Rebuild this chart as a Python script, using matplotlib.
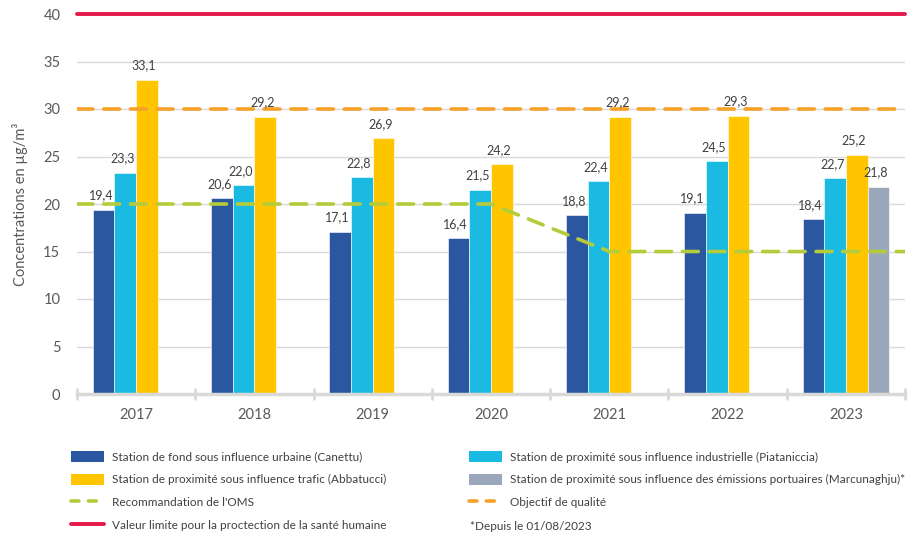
import numpy as np
import matplotlib
matplotlib.use('Agg')
from matplotlib import pyplot as plt
from matplotlib.patches import Patch
from matplotlib.lines import Line2D

plt.rcParams['font.family'] = ['Lato', 'DejaVu Sans']

years = ['2017', '2018', '2019', '2020', '2021', '2022', '2023']
canettu = [19.4, 20.6, 17.1, 16.4, 18.8, 19.1, 18.4]
piataniccia = [23.3, 22.0, 22.8, 21.5, 22.4, 24.5, 22.7]
abbatucci = [33.1, 29.2, 26.9, 24.2, 29.2, 29.3, 25.2]
marcunaghju = [np.nan, np.nan, np.nan, np.nan, np.nan, np.nan, 21.8]
oms = [20, 20, 20, 20, 15, 15, 15]
objectif = 30
valeur_limite = 40

series = [
    (canettu, '#2B57A0', 'Station de fond sous influence urbaine (Canettu)'),
    (piataniccia, '#1BBAE3', 'Station de proximité sous influence industrielle (Piataniccia)'),
    (abbatucci, '#FFC600', 'Station de proximité sous influence trafic (Abbatucci)'),
    (marcunaghju, '#9BA8BC', 'Station de proximité sous influence des émissions portuaires (Marcunaghju)*'),
]

txt = '#404040'
grid_c = '#D9D9D9'
green = '#B5CC3A'
orange = '#F7A128'
red = '#E5194B'

fig = plt.figure(figsize=(9.19, 5.35), dpi=100)
ax = fig.add_axes([77 / 919, 1 - 394 / 535, (905 - 77) / 919, (394 - 14) / 535])

x = np.arange(len(years))
w = 0.183
for i, (vals, col, lab) in enumerate(series):
    pos = x + (i - 1.5) * w
    ax.bar(pos, vals, w, color=col, edgecolor='white', linewidth=0.4, zorder=2)
    for px, v in zip(pos, vals):
        if np.isnan(v):
            continue
        ax.annotate('{:.1f}'.format(v).replace('.', ','), (px, v), xytext=(-2, 6),
                    textcoords='offset points', ha='center', va='bottom',
                    fontsize=9, color=txt, zorder=5)

# reference lines
xl = np.concatenate([[-0.5], x, [6.5]])
ax.plot(xl, [oms[0]] + oms + [oms[-1]], color=green, lw=2.6, dashes=(4.4, 3.0),
        dash_capstyle='round', zorder=3)
ax.plot([-0.5, 6.5], [objectif, objectif], color=orange, lw=2.6, dashes=(4.4, 3.0),
        dash_capstyle='round', zorder=3)
ax.plot([-0.5, 6.5], [valeur_limite, valeur_limite], color=red, lw=2.8,
        solid_capstyle='round', clip_on=False, zorder=3)

ax.set_xlim(-0.5, 6.5)
ax.set_ylim(0, 40)
ax.set_yticks(range(0, 41, 5))
ax.yaxis.grid(True, color=grid_c, lw=1, zorder=0)
ax.set_axisbelow(True)
ax.set_xticks(x)
ax.set_xticklabels(years)
ax.set_xticks(np.arange(-0.5, 7, 1), minor=True)
ax.tick_params(axis='x', which='major', length=0, pad=10, labelsize=10.5, labelcolor='#595959')
ax.tick_params(axis='x', which='minor', direction='inout', length=9, width=2, color=grid_c)
ax.tick_params(axis='y', length=0, pad=12, labelsize=10.5, labelcolor='#595959')
for s in ['top', 'right', 'left']:
    ax.spines[s].set_visible(False)
ax.spines['bottom'].set_color(grid_c)
ax.spines['bottom'].set_linewidth(2.5)
ax.set_ylabel('Concentrations en µg/m³', fontsize=10.5, color='#595959', labelpad=11)

# legend
def bar_h(c):
    return Patch(facecolor=c, edgecolor='none')

left_h = [bar_h(series[0][1]), bar_h(series[2][1]),
          Line2D([], [], color=green, lw=2.6, dashes=(2.2, 2.6), dash_capstyle='round'),
          Line2D([], [], color=red, lw=2.8, solid_capstyle='round')]
left_l = [series[0][2], series[2][2], "Recommandation de l'OMS",
          'Valeur limite pour la proctection de la santé humaine']
right_h = [bar_h(series[1][1]), bar_h(series[3][1]),
           Line2D([], [], color=orange, lw=2.6, dashes=(2.2, 2.6), dash_capstyle='round')]
right_l = [series[1][2], series[3][2], 'Objectif de qualité']

kw = dict(loc='upper left', frameon=False, fontsize=8.5, handlelength=2.8, handleheight=1.05,
          handletextpad=0.7, labelspacing=0.95, labelcolor=txt, borderpad=0, borderaxespad=0)
leg1 = fig.legend(left_h, left_l, bbox_to_anchor=(71 / 919, 1 - 451 / 535), **kw)
leg2 = fig.legend(right_h, right_l, bbox_to_anchor=(469 / 919, 1 - 451 / 535), **kw)
fig.text(470 / 919, 1 - 526 / 535, '*Depuis le 01/08/2023', fontsize=8.5, color=txt,
         ha='left', va='center')

fig.savefig('out.png', dpi=100)
